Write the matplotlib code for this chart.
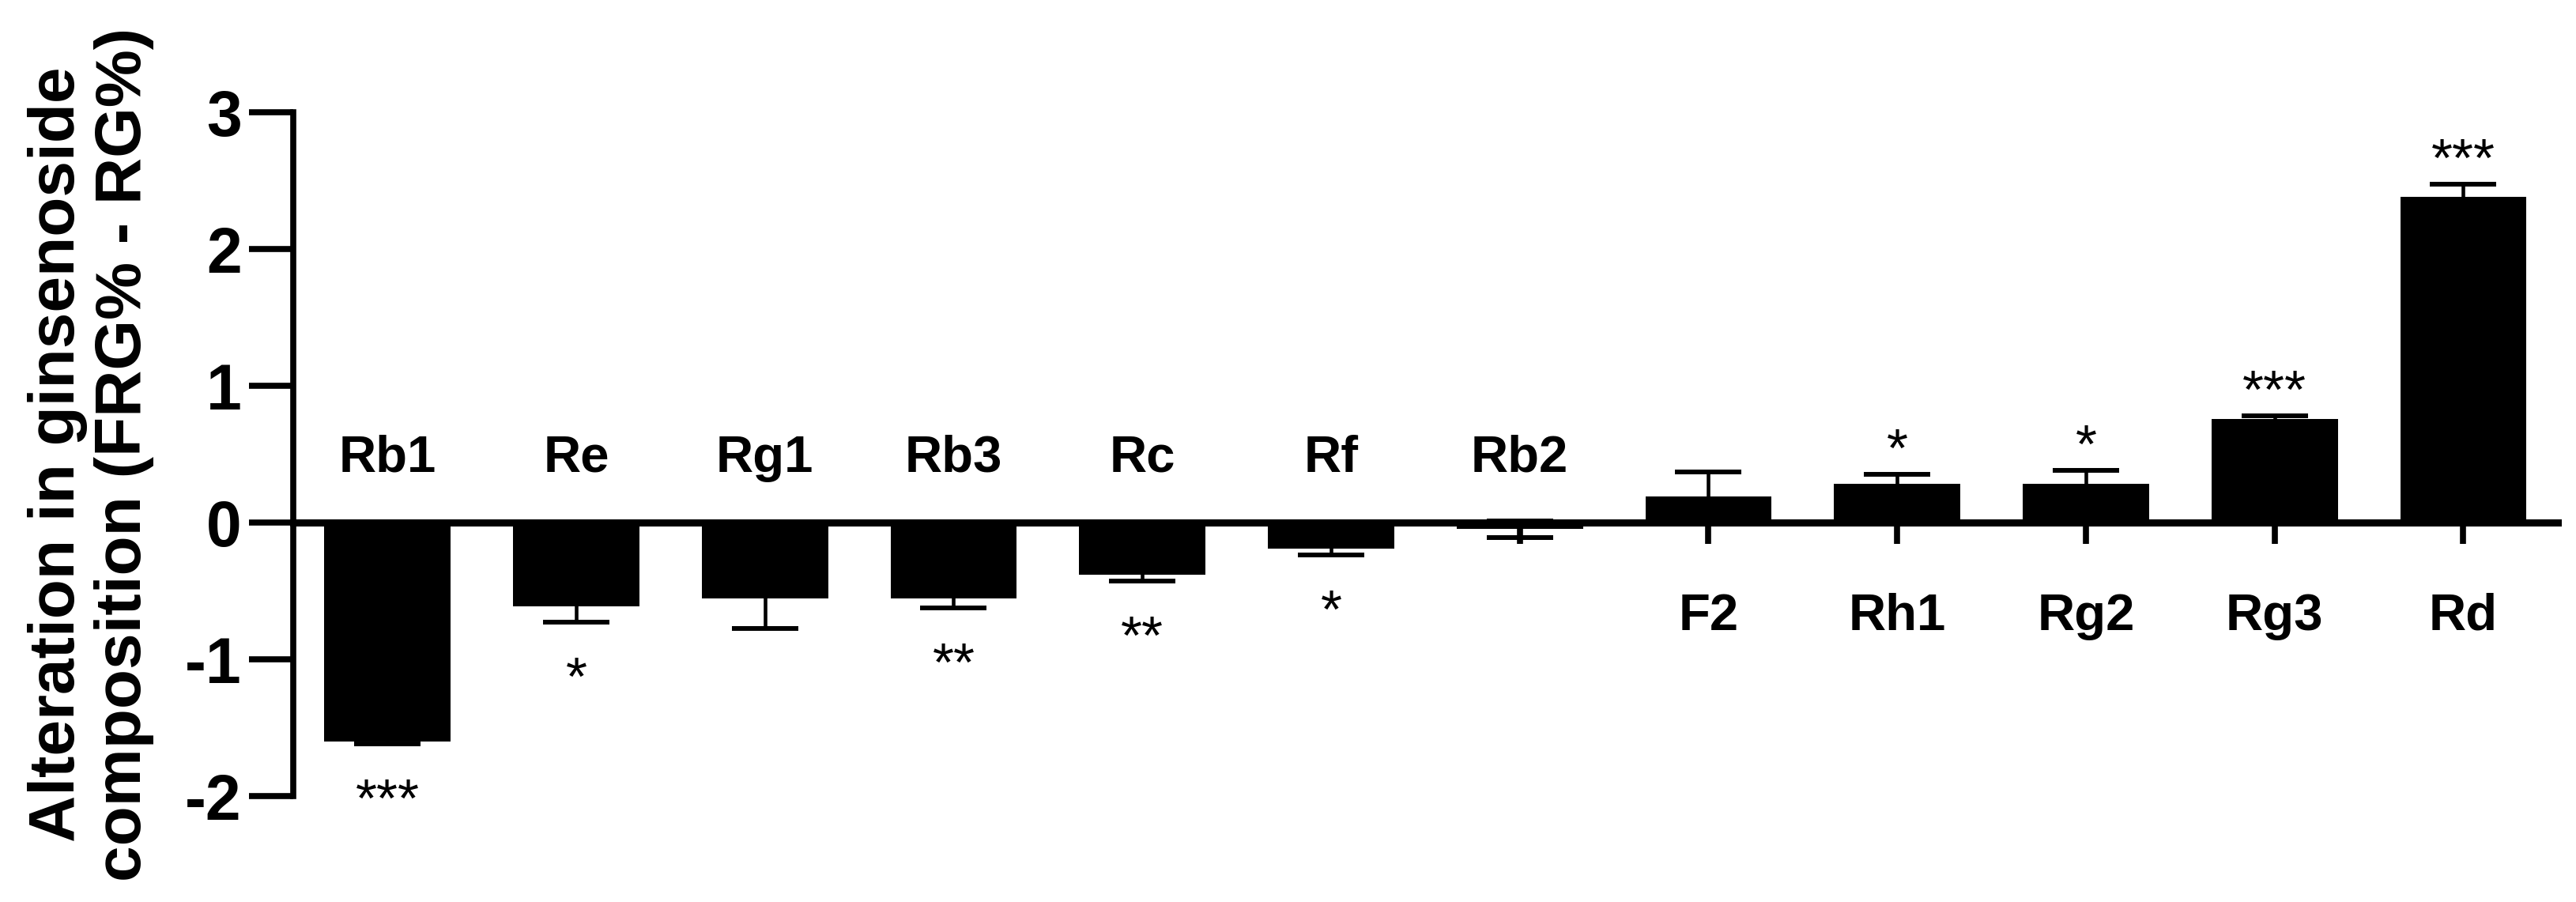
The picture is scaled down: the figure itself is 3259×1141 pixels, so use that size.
import matplotlib
matplotlib.use("Agg")
import matplotlib.pyplot as plt
import numpy as np

plt.rcParams['font.family'] = ['Liberation Sans', 'DejaVu Sans']
plt.rcParams['axes.unicode_minus'] = False

# ---- data ----
categories = ['Rb1', 'Re', 'Rg1', 'Rb3', 'Rc', 'Rf', 'Rb2', 'F2', 'Rh1', 'Rg2', 'Rg3', 'Rd']
values = [-1.60, -0.61, -0.555, -0.555, -0.38, -0.19, -0.047, 0.19, 0.283, 0.286, 0.758, 2.38]
errors = [0.02, 0.12, 0.22, 0.07, 0.05, 0.045, 0.06, 0.18, 0.07, 0.094, 0.02, 0.095]
stars = ['***', '*', '', '**', '**', '*', '', '', '*', '*', '***', '***']
yticks = [-2, -1, 0, 1, 2, 3]
ylabel = 'Alteration in ginsenoside\ncomposition (FRG% - RG%)'

fig = plt.figure(figsize=(32.59, 11.41), dpi=100)
ax = fig.add_axes([0.1138, 0.1174, 0.9929 - 0.1138, 0.8755 - 0.1174])

x = np.arange(len(categories))
ax.bar(x, values, width=0.67, color='black', edgecolor='black', linewidth=0, zorder=2)
ax.errorbar(x, values, yerr=errors, fmt='none', ecolor='black', elinewidth=3.3,
            capsize=30, capthick=4.3, zorder=1)

ax.set_xlim(-0.5, 11.5)
ax.set_ylim(-2, 3)

# spines
for s in ['top', 'right']:
    ax.spines[s].set_visible(False)
ax.spines['left'].set_bounds(-2, 3)
ax.spines['left'].set_linewidth(5.5)
ax.spines['bottom'].set_position(('data', 0))
ax.spines['bottom'].set_linewidth(6.5)
ax.spines['left'].set_zorder(3)
ax.spines['bottom'].set_zorder(3)

ax.set_yticks(yticks)
ax.set_yticklabels([str(t) for t in yticks], fontsize=58, fontweight='bold')
ax.tick_params(axis='y', direction='out', length=40, width=5.5, pad=7)
ax.set_xticks(x)
ax.set_xticklabels([])
ax.tick_params(axis='x', direction='out', length=19.5, width=5.5)

# category labels and significance stars
for xi, v, e, name, st in zip(x, values, errors, categories, stars):
    if v < 0:
        ax.text(xi, 0.373, name, ha='center', va='baseline', fontsize=47, fontweight='bold')
        if st:
            ax.annotate(st, (xi, v - e), xytext=(0, -66), textcoords='offset points',
                        ha='center', va='baseline', fontsize=50)
    else:
        ax.text(xi, -0.783, name, ha='center', va='baseline', fontsize=47, fontweight='bold')
        if st:
            ax.annotate(st, (xi, v + e), xytext=(0, 7.5), textcoords='offset points',
                        ha='center', va='baseline', fontsize=50)

fig.text(115 / 3259, 1 - 575 / 1141, ylabel, rotation=90, ha='center', va='center',
         fontsize=59, fontweight='bold', linespacing=1.15, multialignment='center')

fig.savefig('out.png', dpi=100, facecolor='white')
